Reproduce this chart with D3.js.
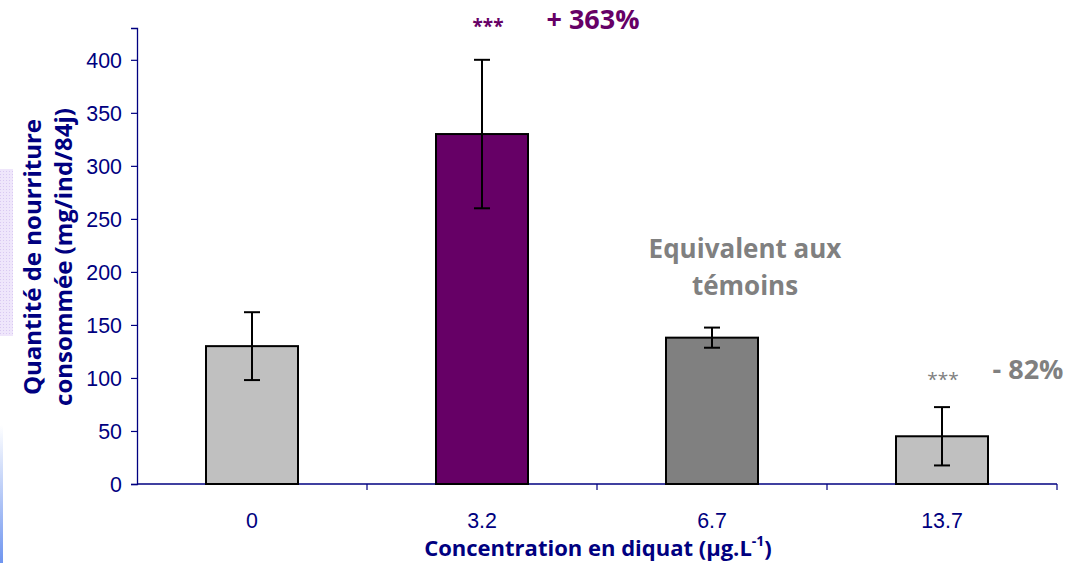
<!DOCTYPE html>
<html>
<head>
<meta charset="utf-8">
<script src="https://cdn.jsdelivr.net/npm/d3@7"></script>
<style>
  html, body { margin: 0; padding: 0; background: #fff; }
  svg { display: block; }
</style>
</head>
<body>
<svg id="chart" width="1079" height="563"></svg>
<script>
// Food consumed per individual over 84 days, by diquat concentration
const categories = ["0", "3.2", "6.7", "13.7"];
const means = [130, 330, 138, 45];
const errors = [32, 70, 9.5, 27.5];
const barColors = ["#C0C0C0", "#660066", "#808080", "#C0C0C0"];
const yTicks = [0, 50, 100, 150, 200, 250, 300, 350, 400];

const svg = d3.select("#chart");
const navy = "#000080";
const margin = { left: 137, right: 22, top: 28, bottom: 79 };
const W = 1079, H = 563;

const x = d3.scaleBand().domain(categories)
  .range([margin.left, W - margin.right]).paddingInner(0.6).paddingOuter(0.3);
const y = d3.scaleLinear().domain([0, 430]).range([H - margin.bottom, margin.top]);

// side decorations
const defs = svg.append("defs");
const p = defs.append("pattern").attr("id", "dots").attr("width", 3).attr("height", 3)
  .attr("patternUnits", "userSpaceOnUse");
p.append("rect").attr("width", 3).attr("height", 3).attr("fill", "#efe6fb");
p.append("rect").attr("width", 1).attr("height", 1).attr("fill", "#d9c9f2");
svg.append("rect").attr("x", 0).attr("y", 169).attr("width", 13).attr("height", 167).attr("fill", "url(#dots)");
const g = defs.append("linearGradient").attr("id", "strip").attr("x1", 0).attr("x2", 0).attr("y1", 0).attr("y2", 1);
g.append("stop").attr("offset", 0).attr("stop-color", "#ffffff");
g.append("stop").attr("offset", 1).attr("stop-color", "#6f95ef");
svg.append("rect").attr("x", 0).attr("y", 425).attr("width", 3).attr("height", 138).attr("fill", "url(#strip)");

const tickFont = "'Liberation Sans', Arial, sans-serif";
const sx = 0.93; // slightly condensed tick numerals

// y axis
const yAxis = svg.append("g").attr("transform", `translate(${margin.left},0)`)
  .call(d3.axisLeft(y).tickValues(yTicks).tickSize(6).tickPadding(9));
yAxis.select(".domain").attr("stroke", navy).attr("stroke-width", 1.3);
yAxis.selectAll(".tick line").attr("stroke", navy).attr("stroke-width", 1.2);
yAxis.selectAll(".tick text").attr("fill", navy)
  .attr("x", -15 / sx).attr("transform", `scale(${sx},1)`)
  .style("font-family", tickFont).style("font-size", "23px");

// x axis with separators between categories
const x0 = margin.left, x1 = W - margin.right;
const xg = svg.append("g");
xg.append("line").attr("x1", x0).attr("x2", x1).attr("y1", y(0)).attr("y2", y(0))
  .attr("stroke", navy).attr("stroke-width", 1.3);
const seps = d3.range(1, categories.length + 1).map(i => x0 + (x1 - x0) * i / categories.length);
xg.selectAll("line.sep").data(seps).join("line").attr("class", "sep")
  .attr("x1", d => d).attr("x2", d => d).attr("y1", y(0)).attr("y2", y(0) + 6)
  .attr("stroke", navy).attr("stroke-width", 1.2);
xg.selectAll("text").data(categories).join("text")
  .attr("x", d => (x(d) + x.bandwidth() / 2) / sx).attr("y", y(0) + 44)
  .attr("transform", `scale(${sx},1)`)
  .attr("text-anchor", "middle").attr("fill", navy)
  .style("font-family", tickFont).style("font-size", "23px")
  .text(d => d);

// bars
svg.selectAll("rect.bar").data(categories).join("rect").attr("class", "bar")
  .attr("x", d => x(d)).attr("width", x.bandwidth())
  .attr("y", (d, i) => y(means[i])).attr("height", (d, i) => y(0) - y(means[i]))
  .attr("fill", (d, i) => barColors[i]).attr("stroke", "#000").attr("stroke-width", 2);

// error bars
const cx = d => x(d) + x.bandwidth() / 2;
const eb = svg.selectAll("g.err").data(categories).join("g").attr("class", "err")
  .attr("stroke", "#000").attr("stroke-width", 2);
eb.append("line").attr("x1", cx).attr("x2", cx)
  .attr("y1", (d, i) => y(means[i] + errors[i])).attr("y2", (d, i) => y(means[i] - errors[i]));
eb.append("line").attr("x1", d => cx(d) - 8).attr("x2", d => cx(d) + 8)
  .attr("y1", (d, i) => y(means[i] + errors[i])).attr("y2", (d, i) => y(means[i] + errors[i]));
eb.append("line").attr("x1", d => cx(d) - 8).attr("x2", d => cx(d) + 8)
  .attr("y1", (d, i) => y(means[i] - errors[i])).attr("y2", (d, i) => y(means[i] - errors[i]));

// axis titles
const titleFont = "'Open Sans', 'Noto Sans', sans-serif";
const yt = svg.append("text").attr("transform", "translate(0,257) rotate(-90)")
  .attr("text-anchor", "middle").attr("fill", navy)
  .style("font-family", titleFont).style("font-weight", "bold").style("font-size", "24px");
yt.append("tspan").attr("x", 0).attr("y", 41).text("Quantité de nourriture");
yt.append("tspan").attr("x", 0).attr("y", 72).text("consommée (mg/ind/84j)");

const xt = svg.append("text").attr("x", 598).attr("y", 556).attr("text-anchor", "middle")
  .attr("fill", navy).style("font-family", titleFont).style("font-weight", "bold").style("font-size", "22px");
xt.append("tspan").text("Concentration en diquat (µg.L");
xt.append("tspan").attr("dy", -10).style("font-size", "14px").text("-1");
xt.append("tspan").attr("dy", 10).text(")");

// annotations
const ann = (tx, ty, txt, color, size, weight) => svg.append("text")
  .attr("x", tx).attr("y", ty).attr("text-anchor", "middle").attr("fill", color)
  .style("font-family", titleFont).style("font-weight", weight).style("font-size", size + "px").text(txt);
ann(488, 33, "***", "#660066", 19, "bold");
ann(593, 29, "+ 363%", "#660066", 27, "bold");
ann(745, 258, "Equivalent aux", "#808080", 26, "bold");
ann(745, 295, "témoins", "#808080", 26, "bold");
ann(943, 386, "***", "#808080", 19, "normal");
ann(1028, 379, "- 82%", "#808080", 27, "bold");
</script>
</body>
</html>
